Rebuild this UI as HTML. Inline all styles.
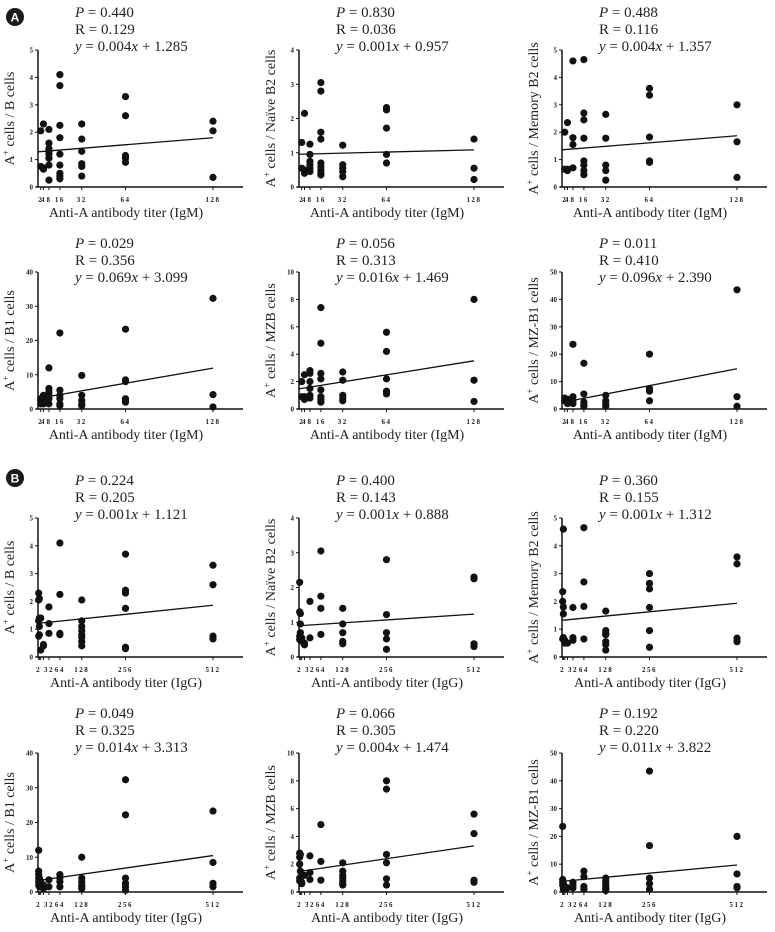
<!DOCTYPE html>
<html><head><meta charset="utf-8"><style>
html,body{margin:0;padding:0;background:#fff;}
svg{display:block;font-family:"Liberation Serif",serif;}
</style></head><body>
<svg id="fig" width="775" height="932" viewBox="0 0 775 932" xmlns="http://www.w3.org/2000/svg"></svg>
<script>
// ---- data ----
const igmTiters=[2,4,8,16,32,64,128];
const iggTiters=[2,4,8,16,32,64,128,256,512];
const igmTickLabels=[2,4,8,16,32,64,128];
const iggTickLabels=[2,32,64,128,256,512];
const dataA1=[[2.05,0.75],[2.3,0.7,0.65],[2.1,1.6,1.4,1.3,1.2,1.05,0.8,0.25],[4.1,3.7,2.25,1.8,1.2,0.8,0.5,0.4,0.3],[2.3,1.75,1.3,0.85,0.75,0.4],[3.3,2.6,1.15,1.05,0.9],[2.4,2.05,0.35]];
const dataA2=[[1.3,0.55],[2.15,0.5,0.4],[1.25,0.95,0.75,0.65,0.55,0.45],[3.05,2.8,1.6,1.4,0.7,0.6,0.5,0.4,0.35],[1.22,0.65,0.55,0.45,0.3],[2.32,2.25,1.72,0.95,0.7],[1.4,0.55,0.22]];
const dataA3=[[2.0,0.65],[2.35,0.6,0.65],[4.6,1.8,1.55,0.7],[4.65,2.7,2.45,1.78,0.95,0.8,0.6,0.45],[2.65,1.78,0.8,0.6,0.25],[3.6,3.35,1.82,0.95,0.9],[3.0,1.65,0.35]];
const dataA4=[[3,2.5,1.5],[4,3,2,1.5],[12,6,5,4,3,1.5],[22.2,5.5,4,3,1.5,1],[9.8,4,2.5,1.5,1],[23.3,8.5,8,3,2.5,2],[32.3,4.2,0.6]];
const dataA5=[[2,0.9],[2.5,0.9,0.7],[2.8,2.6,2,1.5,1,0.8],[7.4,4.8,2.6,2.2,1.4,0.9,0.7,0.5],[2.7,2.1,1,0.8,0.6],[5.6,4.2,2.2,1.3,1.1],[8,2.1,0.55]];
const dataA6=[[4,3],[3.5,2.5,2],[23.6,4.5,3,2],[16.7,5.5,2.5,1.5,1],[5,3,2,1],[20,7.5,6.5,3],[43.5,4.5,1]];
const dataB1=[[2.3,2.05,1.3,0.75],[2.1,1.4,1.1,0.8],[1.4,0.25],[0.45,0.4],[1.8,1.2,0.85],[4.1,2.25,0.85,0.8],[2.05,1.3,1.1,0.95,0.8,0.7,0.55,0.4],[3.7,2.4,2.3,1.75,0.35,0.3],[3.3,2.6,0.75,0.65]];
const dataB2=[[2.15,1.3,0.6,0.5],[1.25,0.95,0.7],[0.55,0.45],[0.4,0.35],[1.6,0.55],[3.05,1.75,1.4,0.65],[1.4,0.95,0.7,0.45,0.38],[2.8,1.22,0.7,0.52,0.22],[2.3,2.25,0.38,0.3]];
const dataB3=[[2.0,2.35,0.65],[4.6,1.8,1.55,0.7],[0.6,0.5],[0.5],[1.78,0.7,0.6],[4.65,2.7,1.82,0.65],[1.65,0.95,0.85,0.8,0.55,0.45,0.25],[3.0,2.65,2.45,1.78,0.95,0.35],[3.6,3.35,0.68,0.55]];
const dataB4=[[12,6,5,4,3,2],[4,3,2,1.5],[3,1.5],[2,1],[3.5,1.5],[5,4,3,1.5],[10,4,3,2,1.5,1],[32.3,22.2,4,2.5,1.5,0.5],[23.3,8.5,2.5,1.5]];
const dataB5=[[2.8,2.5,2,1,0.8],[2.7,1.5,0.9],[0.7,0.6],[1.2],[2.6,1.4,0.9],[4.85,2.2,0.85],[2.1,1.5,1.2,1,0.8,0.6,0.5],[8,7.4,2.7,2.1,0.95,0.5],[5.6,4.2,0.85,0.7]];
const dataB6=[[23.6,4.5,3.5,2.5],[3,2,1],[2,1],[1.5],[3.5,2.5,1.5],[7.5,5.5,2,1],[5,4,3,2,1.5,1,0.5],[43.5,16.7,5,3,1],[20,6.5,2,1.5]];
const slopes=[0.004,0.001,0.004,0.069,0.016,0.096,0.00127,0.00065,0.0012,0.014,0.0036,0.0115];
const intercepts=[1.285,0.957,1.357,3.099,1.469,2.390,1.21,0.9,1.32,3.313,1.474,3.822];
const pVals=["0.440","0.830","0.488","0.029","0.056","0.011","0.224","0.400","0.360","0.049","0.066","0.192"];
const rVals=["0.129","0.036","0.116","0.356","0.313","0.410","0.205","0.143","0.155","0.325","0.305","0.220"];
const eqSlope=["0.004","0.001","0.004","0.069","0.016","0.096","0.001","0.001","0.001","0.014","0.004","0.011"];
const eqInt=["1.285","0.957","1.357","3.099","1.469","2.390","1.121","0.888","1.312","3.313","1.474","3.822"];
const yMaxes=[5,4,5,40,10,50,5,4,5,40,10,50];
const yStepList=[1,1,1,10,2,10,1,1,1,10,2,10];
const yTitles=["B cells","Naïve B2 cells","Memory B2 cells","B1 cells","MZB cells","MZ-B1 cells","B cells","Naïve B2 cells","Memory B2 cells","B1 cells","MZB cells","MZ-B1 cells"];
const allData=[dataA1,dataA2,dataA3,dataA4,dataA5,dataA6,dataB1,dataB2,dataB3,dataB4,dataB5,dataB6];

// ---- layout ----
const colX=[38,299,562];
const rowY0=[187,409,657,892];
const rowTop=[50,272,518,753];
const rowText=[17,248,485,718];
const NS="http://www.w3.org/2000/svg";
const svg=document.getElementById('fig');
function mk(tag,attrs,parent){const e=document.createElementNS(NS,tag);for(const k in attrs)e.setAttribute(k,attrs[k]);(parent||svg).appendChild(e);return e;}

function badge(letter,cy){
  const g=mk('g',{});
  
  
  mk('circle',{cx:15,cy:cy,r:9,fill:'#1a1a1a'},g);
  const t=mk('text',{x:15,y:cy+4.5,'text-anchor':'middle','font-family':'Liberation Sans, sans-serif','font-weight':'bold','font-size':12,fill:'#fff'},g);
  t.textContent=letter;
}
badge('A',17);badge('B',478);

for(let p=0;p<12;p++){
  const col=p%3,row=Math.floor(p/3);
  const igg=p>=6;
  const titers=igg?iggTiters:igmTiters;
  const tmax=igg?512:128;
  const ox=colX[col],y0=rowY0[row],yt=rowTop[row];
  const xs=v=>ox+v/tmax*175;
  const ys=v=>y0-v/yMaxes[p]*(y0-yt);
  const g=mk('g',{});
  
  
  const tx=ox+37, ty=rowText[row];
  const t1=mk('text',{x:tx,y:ty,'font-size':15,fill:'#222'},g);
  
  
  t1.innerHTML='<tspan font-style="italic">P</tspan> = '+pVals[p];
  const t2=mk('text',{x:tx,y:ty+17,'font-size':15,fill:'#222'},g);
  
  
  t2.textContent='R = '+rVals[p];
  const t3=mk('text',{x:tx,y:ty+34,'font-size':15,fill:'#222'},g);
  
  
  t3.innerHTML='<tspan font-style="italic">y</tspan> = '+eqSlope[p]+'<tspan font-style="italic">x</tspan> + '+eqInt[p];
  const ya=mk('line',{x1:ox,y1:yt,x2:ox,y2:y0,stroke:'#111','stroke-width':1.5},g);
  
  
  const xa=mk('line',{x1:ox-2,y1:y0,x2:ox+205,y2:y0,stroke:'#111','stroke-width':1.5},g);
  
  
  for(let v=0;v<=yMaxes[p]+1e-9;v+=yStepList[p]){
    const y=ys(v);
    mk('line',{x1:ox-3,y1:y,x2:ox,y2:y,stroke:'#111','stroke-width':1},g);
    const tl=mk('text',{x:ox-5,y:y+2.5,'text-anchor':'end','font-size':7,'font-weight':'bold',fill:'#222'},g);
    
    
    tl.textContent=v;
  }
  const tl2=igg?iggTickLabels:igmTickLabels;
  for(const v of titers){mk('line',{x1:xs(v),y1:y0,x2:xs(v),y2:y0+3,stroke:'#111','stroke-width':1},g);}
  for(const v of tl2){
    const xl=mk('text',{x:xs(v),y:y0+15,'text-anchor':'middle','font-size':7,'font-weight':'bold','letter-spacing':1.5,fill:'#222'},g);
    
    
    xl.textContent=v;
  }
  const xt=mk('text',{x:ox+88,y:y0+30,'text-anchor':'middle','font-size':14,fill:'#222'},g);
  
  
  xt.textContent='Anti-A antibody titer ('+(igg?'IgG':'IgM')+')';
  const cx=ox-24, cy=(yt+y0)/2;
  const yl=mk('text',{x:cx,y:cy,'text-anchor':'middle','font-size':14,fill:'#222',transform:'rotate(-90 '+cx+' '+cy+')'},g);
  
  
  yl.innerHTML='A<tspan font-size="9" dy="-5">+</tspan><tspan dy="5"> cells / '+yTitles[p]+'</tspan>';
  const rl=mk('line',{x1:xs(0),y1:ys(intercepts[p]),x2:xs(tmax),y2:ys(intercepts[p]+slopes[p]*tmax),stroke:'#111','stroke-width':1.3},g);
  
  
  const d=allData[p];
  for(let i=0;i<d.length;i++){
    for(const v of d[i]){
      const c=mk('circle',{cx:xs(titers[i]),cy:ys(v),r:3.6,fill:'#111'},g);
      
      
    }
  }
}
</script>
</body></html>
